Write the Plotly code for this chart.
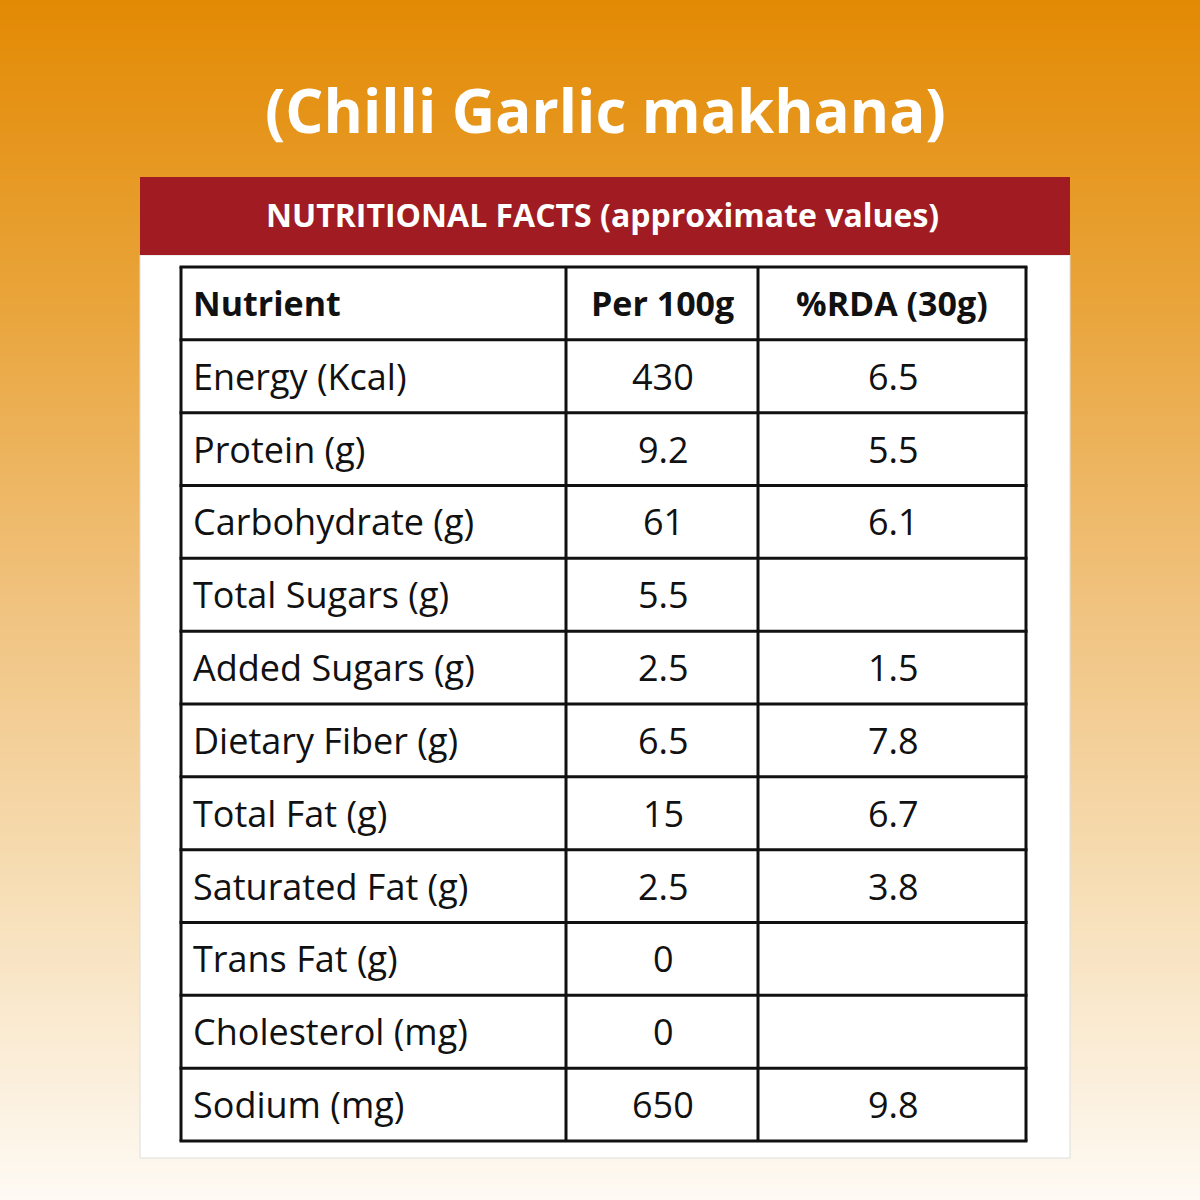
import plotly.graph_objects as go

title = "(Chilli Garlic makhana)"
banner = "NUTRITIONAL FACTS (approximate values)"
headers = ["Nutrient", "Per 100g", "%RDA (30g)"]
nutrients = ["Energy (Kcal)", "Protein (g)", "Carbohydrate (g)", "Total Sugars (g)",
             "Added Sugars (g)", "Dietary Fiber (g)", "Total Fat (g)", "Saturated Fat (g)",
             "Trans Fat (g)", "Cholesterol (mg)", "Sodium (mg)"]
per100 = ["430", "9.2", "61", "5.5", "2.5", "6.5", "15", "2.5", "0", "0", "650"]
rda = ["6.5", "5.5", "6.1", "", "1.5", "7.8", "6.7", "3.8", "", "", "9.8"]

FONT = "Open Sans"
fig = go.Figure()
fig.add_trace(go.Heatmap(x=[0, 1200], y=[0, 300, 600, 900, 1200], z=[[0, 0], [1, 1], [2, 2], [3, 3], [4, 4]],
                         zsmooth="best", showscale=False, hoverinfo="skip",
                         colorscale=[[0, "#E38A04"], [0.25, "#E9A43A"], [0.5, "#F0C27E"],
                                     [0.75, "#F7DFB8"], [1, "#FEFAF4"]]))
shapes = []
shapes.append(dict(type="rect", x0=140, x1=1070, y0=255, y1=1158, fillcolor="white",
                   line=dict(color="#DDDDDD", width=1), layer="above"))
shapes.append(dict(type="rect", x0=140, x1=1070, y0=177, y1=255, fillcolor="#A01C22",
                   line=dict(width=0), layer="above"))
xs = [181, 566, 758, 1026]
n = len(nutrients) + 1
y0, y1 = 267, 1141
rows = [y0 + (y1 - y0) * i / n for i in range(n + 1)]
for x in xs:
    shapes.append(dict(type="line", x0=x, x1=x, y0=y0, y1=y1, line=dict(color="#111", width=3), layer="above"))
for y in rows:
    shapes.append(dict(type="line", x0=xs[0] - 1.5, x1=xs[-1] + 1.5, y0=y, y1=y, line=dict(color="#111", width=3), layer="above"))

ann = [dict(x=605, y=110, text="<b>" + title + "</b>", font=dict(size=60, color="white", family=FONT), showarrow=False),
       dict(x=602, y=214, text="<b>" + banner + "</b>", font=dict(size=32, color="white", family=FONT), showarrow=False)]
hx = [(191, "left"), (662, "center"), (892, "center")]
for (x, al), h in zip(hx, headers):
    ann.append(dict(x=x, y=(rows[0] + rows[1]) / 2, text="<b>" + h + "</b>", xanchor=al, showarrow=False,
                    font=dict(size=34, color="#111", family=FONT)))
for i, (a, b, c) in enumerate(zip(nutrients, per100, rda)):
    yc = (rows[i + 1] + rows[i + 2]) / 2
    for (x, al), t in zip([(191, "left"), (663, "center"), (893, "center")], [a, b, c]):
        if t:
            ann.append(dict(x=x, y=yc, text=t, xanchor=al, showarrow=False,
                            font=dict(size=36, color="#111", family=FONT)))

fig.update_layout(width=1200, height=1200, margin=dict(l=0, r=0, t=0, b=0),
                  xaxis=dict(range=[0, 1200], visible=False, fixedrange=True),
                  yaxis=dict(range=[1200, 0], visible=False, fixedrange=True),
                  shapes=shapes, annotations=ann, showlegend=False,
                  paper_bgcolor="white", plot_bgcolor="white")
fig.write_html("out.html", config={"displayModeBar": False},
               post_script="document.body.style.margin='0';document.body.style.padding='0';")
